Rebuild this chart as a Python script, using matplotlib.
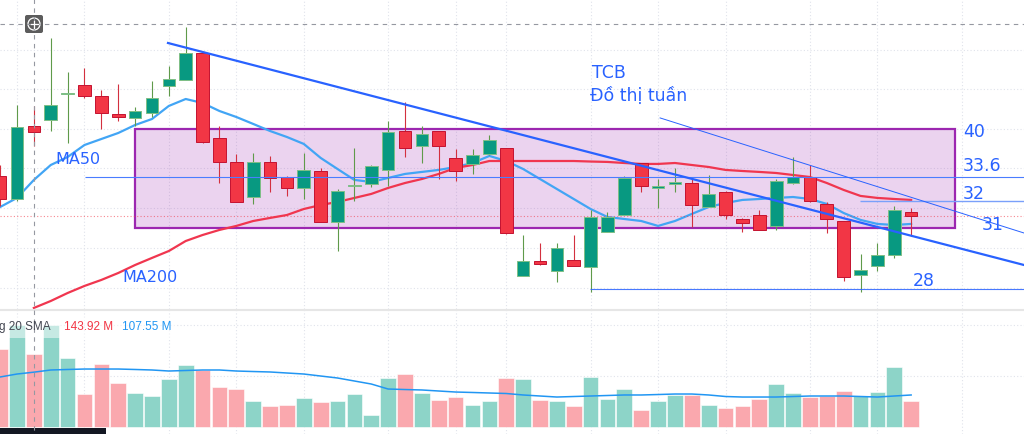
import numpy as np
import matplotlib.pyplot as plt
from matplotlib.patches import Rectangle, FancyBboxPatch, Circle

# weekly candles
opens = [36.48, 34.75, 40.23, 40.68, 42.59, 43.30, 42.48, 41.13, 40.83, 41.20,
         43.23, 43.68, 45.70, 39.33, 37.53, 34.90, 37.53, 36.40, 35.58, 36.85,
         33.03, 35.69, 35.88, 36.93, 39.85, 38.73, 39.85, 37.83, 37.38, 38.13,
         38.58, 28.98, 30.10, 29.35, 30.18, 29.65, 32.28, 33.55, 37.45, 35.61,
         35.88, 35.95, 34.15, 35.28, 33.25, 33.55, 32.73, 35.95, 36.40, 34.38,
         33.10, 29.05, 29.73, 30.55, 33.78]
highs = [37.30, 41.80, 41.73, 46.83, 44.28, 44.58, 42.93, 43.38, 41.65, 43.60,
         44.73, 47.65, 45.70, 40.23, 38.13, 38.20, 37.98, 36.48, 38.20, 37.08,
         35.50, 38.58, 37.30, 40.60, 42.03, 40.23, 39.85, 38.50, 38.50, 39.55,
         38.58, 32.05, 31.45, 31.45, 32.05, 33.93, 33.78, 36.48, 37.45, 36.25,
         37.08, 36.40, 36.55, 35.35, 33.33, 33.93, 36.25, 37.90, 37.30, 34.53,
         33.10, 30.63, 31.45, 34.23, 34.08]
lows = [34.23, 34.60, 38.73, 39.85, 38.95, 42.33, 40.00, 40.60, 40.23, 40.90,
        42.48, 43.68, 38.95, 35.95, 34.53, 34.38, 35.28, 34.98, 34.75, 33.03,
        30.85, 34.60, 35.65, 35.73, 37.90, 37.45, 36.25, 36.10, 36.63, 38.05,
        32.13, 28.98, 29.80, 28.53, 29.73, 27.78, 32.28, 33.55, 35.28, 34.08,
        35.28, 32.65, 34.15, 33.25, 32.28, 32.43, 32.43, 35.88, 34.53, 32.20,
        28.60, 27.78, 29.35, 30.33, 31.98]
closes = [34.75, 40.15, 39.78, 41.80, 42.63, 42.48, 41.20, 40.90, 41.35, 42.33,
          43.75, 45.70, 39.03, 37.53, 34.53, 37.53, 36.33, 35.58, 36.93, 33.03,
          35.35, 35.73, 37.23, 39.78, 38.58, 39.63, 38.73, 36.85, 38.05, 39.18,
          32.20, 30.10, 29.88, 31.08, 29.73, 33.40, 33.40, 36.33, 35.73, 35.65,
          36.03, 34.30, 35.13, 33.55, 32.95, 32.43, 36.10, 36.40, 34.60, 33.25,
          28.90, 29.43, 30.55, 33.93, 33.48]

# volume in millions and its 20 week SMA
volumes = [153.0, 200.0, 143.92, 200.0, 135.3, 64.7, 123.5, 86.3, 66.7, 60.8,
           94.1, 121.6, 111.8, 78.4, 74.5, 51.0, 41.2, 43.1, 56.9, 49.0,
           51.0, 64.7, 23.5, 96.1, 103.9, 66.7, 52.9, 58.8, 43.1, 51.0,
           96.1, 94.1, 52.9, 51.0, 41.2, 98.1, 54.9, 74.5, 33.3, 51.0,
           62.8, 62.8, 43.1, 37.3, 41.2, 54.9, 84.3, 66.7, 58.8, 60.8,
           70.6, 60.8, 68.6, 117.7, 51.0]
vol_sma = [98.1, 103.9, 107.55, 111.8, 112.8, 113.7, 113.7, 113.7, 112.8, 111.8,
           109.8, 110.8, 111.8, 111.8, 109.8, 108.8, 107.9, 105.9, 103.9, 100.0,
           96.1, 90.2, 84.3, 74.5, 73.5, 72.6, 70.6, 68.6, 67.7, 66.7,
           65.7, 62.8, 60.8, 58.8, 59.8, 60.8, 61.8, 62.8, 62.8, 63.7,
           64.7, 64.7, 62.8, 59.8, 58.8, 58.8, 58.8, 59.8, 60.8, 60.8,
           60.8, 59.8, 58.8, 60.8, 62.8]

ma50 = [34.15, 34.83, 36.18, 37.30, 37.90, 38.80, 39.25, 39.70, 40.30, 40.75,
        41.73, 42.25, 41.95, 41.35, 40.90, 40.38, 39.85, 39.40, 38.88, 37.83,
        37.00, 36.18, 36.03, 36.33, 36.63, 36.78, 36.93, 37.15, 37.45, 37.98,
        37.60, 37.00, 36.25, 35.50, 34.75, 34.00, 33.40, 33.25, 33.10, 32.73,
        33.10, 33.63, 34.15, 34.45, 34.68, 34.75, 34.83, 34.90, 34.75, 34.38,
        33.70, 33.18, 32.88, 32.80, 32.88]
ma200 = [np.nan, np.nan, 26.58, 27.10, 27.70, 28.23, 28.68, 29.20, 29.80, 30.33,
         30.85, 31.60, 32.05, 32.43, 32.73, 33.10, 33.33, 33.55, 34.00, 34.30,
         34.53, 34.83, 35.13, 35.58, 35.95, 36.25, 36.63, 37.08, 37.30, 37.60,
         37.60, 37.60, 37.60, 37.60, 37.60, 37.56, 37.53, 37.45, 37.38, 37.38,
         37.45, 37.30, 37.15, 36.93, 36.85, 36.78, 36.70, 36.55, 36.40, 35.95,
         35.43, 34.98, 34.83, 34.75, 34.68]

# hand drawn levels
box_top, box_bottom = 40.0, 32.575
month_starts = [1, 5, 10, 14, 18, 23, 27, 30, 35, 39, 43, 48, 52, 57]

GREEN = '#089981'
RED = '#f23645'
BLUE = '#2962ff'

fig = plt.figure(figsize=(10.24, 4.35), dpi=100)
ax = fig.add_axes([0, 125 / 435, 1, 310 / 435])
axv = fig.add_axes([0, 0, 1, 125 / 435])

x = np.arange(len(opens))
o = np.array(opens)
c = np.array(closes)
up = c >= o

for a in (ax, axv):
    a.set_xlim(-0.008, 60.69)
    a.axis('off')
    for m in month_starts:
        a.axvline(m, color='#e0e3eb', lw=0.8, ls=(0, (1, 2)), zorder=0)

ax.set_ylim(26.5, 49.75)
for g in [45.93, 43.0, 40.0, 37.08, 34.08, 31.08, 28.08]:
    ax.axhline(g, color='#e0e3eb', lw=0.8, ls=(0, (1, 2)), zorder=0)

# purple zone
ax.add_patch(Rectangle((7.99, box_bottom), 56.6 - 7.99, box_top - box_bottom,
                       facecolor='#9c27b0', alpha=0.2, edgecolor='none', zorder=1))
ax.add_patch(Rectangle((7.99, box_bottom), 56.6 - 7.99, box_top - box_bottom,
                       facecolor='none', edgecolor='#9c27b0', lw=1.6, zorder=1.5))

# moving averages
ax.plot(x, ma50, color='#42a5f5', lw=1.6, zorder=2)
ax.plot(x, ma200, color='#f0364f', lw=1.6, zorder=2)

# candles
wick_col = np.where(up, '#5f9a4a', '#d3303f')
ax.vlines(x, lows, highs, colors=wick_col, lw=0.8, zorder=3)
body = np.maximum(np.abs(c - o), 0.09)
ax.bar(x, body, bottom=np.minimum(o, c), width=0.75,
       color=np.where(up, GREEN, RED),
       edgecolor=np.where(up, '#7fbf86', '#c41230'), lw=0.7, zorder=4)

# levels and trend lines
ax.hlines(36.4, 5.03, 60.69, color='#4a7dff', lw=0.8, zorder=5)
ax.hlines(34.6, 50.97, 60.69, color='#7aa0fa', lw=1.0, zorder=5)
ax.hlines(28.0, 34.97, 60.69, color=BLUE, lw=0.8, alpha=0.85, zorder=5)
ax.axhline(closes[-1], color=RED, lw=0.8, ls=(0, (1, 2)), alpha=0.6, zorder=2)
ax.plot([9.95, 60.69], [46.45, 29.8], color=BLUE, lw=1.6, zorder=5)
ax.plot([39.12, 60.69], [40.83, 32.2], color=BLUE, lw=0.7, zorder=5)

tkw = dict(color=BLUE, ha='left', va='center', family='DejaVu Sans', zorder=6)
ax.text(35.08, 44.275, 'TCB', fontsize=12.5, **tkw)
ax.text(34.97, 42.55, 'Đồ thị tuần', fontsize=12.5, **tkw)
ax.text(3.25, 37.75, 'MA50', fontsize=11.5, **tkw)
ax.text(7.22, 28.9, 'MA200', fontsize=11.5, **tkw)
ax.text(57.08, 39.85, '40', fontsize=12.5, **tkw)
ax.text(57.08, 37.3, '33.6', fontsize=12.5, **tkw)
ax.text(57.08, 35.2, '32', fontsize=12.5, **tkw)
ax.text(58.2, 32.875, '31', fontsize=12.5, **tkw)
ax.text(54.11, 28.675, '28', fontsize=12.5, **tkw)

# volume pane
axv.set_ylim(-13.7, 231.4)
for g in [100, 200]:
    axv.axhline(g, color='#e0e3eb', lw=0.8, ls=(0, (1, 2)), zorder=0)
axv.bar(x, volumes, width=0.93, color=np.where(up, '#8dd4c8', '#faa8ae'),
        edgecolor='white', lw=0.4, zorder=2)
axv.plot(x, vol_sma, color='#2196f3', lw=1.1, zorder=3)

# overlay in pixel units: separator, crosshair, legend, toolbar bits
ov = fig.add_axes([0, 0, 1, 1])
ov.set_xlim(0, 1024)
ov.set_ylim(435, 0)
ov.axis('off')
ov.hlines(310.5, 0, 1024, color='#e6e6e6', lw=1.5)
ov.vlines(34, 0, 435, color='#9598a1', lw=0.8, ls=(0, (4, 4)))
ov.hlines(25, 0, 1024, color='#9598a1', lw=0.8, ls=(0, (4, 4)))
ov.add_patch(FancyBboxPatch((25, 16), 18, 18, boxstyle='round,pad=0,rounding_size=2',
                            facecolor='#4a4a4a', edgecolor='none', alpha=0.9))
ov.add_patch(Circle((34, 25), 6, facecolor='none', edgecolor='white', lw=0.9))
ov.plot([30.5, 37.5], [25, 25], color='white', lw=0.9)
ov.plot([34, 34], [21.5, 28.5], color='white', lw=0.9)
ov.add_patch(Rectangle((0, 318), 175, 21, facecolor='white', alpha=0.5, edgecolor='none'))
lkw = dict(ha='left', va='center', family='Liberation Sans', fontsize=8.5)
ov.text(-1, 327, 'g 20 SMA', color='#434651', **lkw)
ov.text(64, 327, '143.92 M', color=RED, **lkw)
ov.text(122, 327, '107.55 M', color='#2196f3', **lkw)
ov.add_patch(Rectangle((0, 428.5), 106, 7, facecolor='#131722', edgecolor='none'))

fig.savefig('out.png', dpi=100)
